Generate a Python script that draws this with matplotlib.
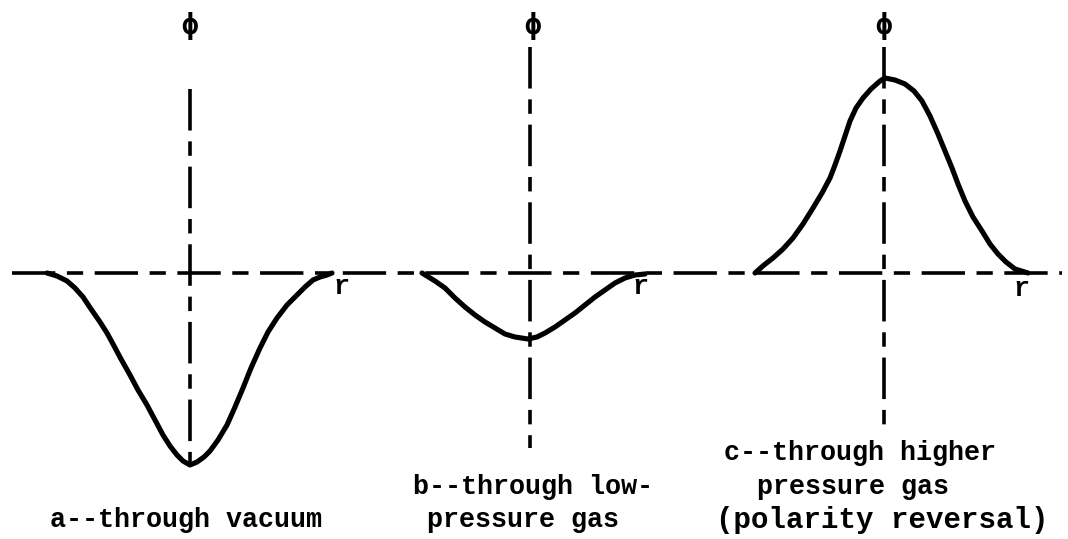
import matplotlib
matplotlib.use("Agg")
import matplotlib.pyplot as plt

# ---- data (units: r and phi, arbitrary, 1 unit ~ 100 px) ----
r_a = [-1.43, -1.33, -1.23, -1.15, -1.07, -0.99, -0.90, -0.83, -0.77, -0.69,
       -0.60, -0.52, -0.43, -0.35, -0.27, -0.20, -0.13, -0.07, 0.00, 0.07,
       0.14, 0.20, 0.28, 0.37, 0.45, 0.53, 0.61, 0.70, 0.78, 0.87,
       0.97, 1.07, 1.15, 1.23, 1.30, 1.37, 1.42]
phi_a = [0.00, -0.03, -0.08, -0.15, -0.24, -0.36, -0.49, -0.60, -0.71, -0.86,
         -1.02, -1.17, -1.32, -1.47, -1.62, -1.73, -1.82, -1.88, -1.92, -1.89,
         -1.84, -1.78, -1.67, -1.52, -1.34, -1.15, -0.95, -0.75, -0.59, -0.45,
         -0.32, -0.22, -0.14, -0.07, -0.04, -0.02, 0.00]

r_b = [-1.08, -0.95, -0.85, -0.75, -0.65, -0.55, -0.45, -0.35, -0.25, -0.15,
       -0.02, 0.07, 0.15, 0.25, 0.35, 0.45, 0.55, 0.65, 0.75, 0.85,
       0.95, 1.05, 1.15]
phi_b = [0.00, -0.08, -0.15, -0.25, -0.34, -0.42, -0.49, -0.55, -0.61, -0.64,
         -0.66, -0.64, -0.60, -0.54, -0.47, -0.40, -0.32, -0.24, -0.17, -0.10,
         -0.05, -0.02, -0.01]

r_c = [-1.29, -1.20, -1.11, -1.01, -0.91, -0.81, -0.71, -0.62, -0.54, -0.49,
       -0.44, -0.39, -0.34, -0.28, -0.21, -0.13, -0.04, 0.01, 0.11, 0.21,
       0.30, 0.38, 0.46, 0.54, 0.61, 0.68, 0.74, 0.81, 0.89, 0.98,
       1.06, 1.14, 1.22, 1.31, 1.44]
phi_c = [0.00, 0.08, 0.15, 0.24, 0.35, 0.49, 0.65, 0.80, 0.95, 1.08,
         1.22, 1.37, 1.52, 1.65, 1.75, 1.84, 1.92, 1.95, 1.93, 1.89,
         1.82, 1.72, 1.57, 1.39, 1.22, 1.05, 0.89, 0.72, 0.56, 0.42,
         0.29, 0.19, 0.11, 0.04, 0.00]

captions_a = ["a--through vacuum"]
captions_b = ["b--through low-", "pressure gas"]
captions_c = ["c--through higher", "pressure gas", "(polarity reversal)"]
axis_label_v = "\u03d5"
axis_label_h = "r"

# ---- layout / style ----
W, H, DPI = 1068, 539, 100
Y0 = 273          # pixel row of the r axis
SCALE = 100.0     # pixels per data unit
FONT = ["Liberation Mono", "DejaVu Sans Mono"]
CAP_SIZE = 19.3
DASH = (0, (11.5, 3.0, 4.0, 3.0))
AXLW = 2.6
CURVELW = 3.7

fig = plt.figure(figsize=(W / DPI, H / DPI), dpi=DPI)
fig.patch.set_facecolor("white")

ylim = (-(H - Y0) / SCALE, Y0 / SCALE)

def make_axes(x_left, x_right, x_origin):
    ax = fig.add_axes([x_left / W, 0, (x_right - x_left) / W, 1])
    ax.set_xlim((x_left - x_origin) / SCALE, (x_right - x_origin) / SCALE)
    ax.set_ylim(*ylim)
    ax.axis("off")
    ax.patch.set_alpha(0)
    return ax

# background axes for the continuous horizontal r axis
bg = fig.add_axes([0, 0, 1, 1])
bg.set_xlim(0, 1)
bg.set_ylim(*ylim)
bg.axis("off")
bg.axhline(0, xmin=12 / W, xmax=1062 / W, color="black", lw=AXLW,
           linestyle=(0, (12.0, 3.2, 4.5, 3.2)), solid_capstyle="butt")

panels = [
    # (x_left, x_right, x_origin, r, phi, v_top, v_bottom, phi_label_dx, r_label_pos, captions)
    (0, 360, 190, r_a, phi_a, 1.84, -2.04, 0.00, (1.51, -0.14),
     [(-0.04, -2.47, captions_a[0], CAP_SIZE)]),
    (360, 712, 530, r_b, phi_b, 2.26, -1.75, 0.03, (1.10, -0.14),
     [(0.03, -2.14, captions_b[0], CAP_SIZE), (-0.07, -2.47, captions_b[1], CAP_SIZE)]),
    (712, 1068, 884, r_c, phi_c, 2.26, -1.52, 0.00, (1.37, -0.16),
     [(-0.24, -1.80, captions_c[0], CAP_SIZE), (-0.31, -2.14, captions_c[1], CAP_SIZE),
      (-0.02, -2.47, captions_c[2], 21.0)]),
]

for (xl, xr, xo, r, phi, vt, vb, pdx, rpos, caps) in panels:
    ax = make_axes(xl, xr, xo)
    ax.plot([0, 0], [vt, vb], color="black", lw=AXLW, linestyle=DASH,
            solid_capstyle="butt")
    ax.plot(r, phi, color="black", lw=CURVELW, solid_joinstyle="round",
            solid_capstyle="round")
    ax.text(pdx, 2.47, axis_label_v, ha="center", va="center",
            fontsize=20, fontweight="bold", family=["DejaVu Sans Mono"])
    ax.text(rpos[0], rpos[1], axis_label_h, ha="center", va="center",
            fontsize=CAP_SIZE, fontweight="bold", family=FONT)
    for (cx, cy, s, fs) in caps:
        ax.text(cx, cy, s, ha="center", va="center", fontsize=fs,
                fontweight="bold", family=FONT)

fig.savefig("out.png", dpi=DPI, facecolor="white")
